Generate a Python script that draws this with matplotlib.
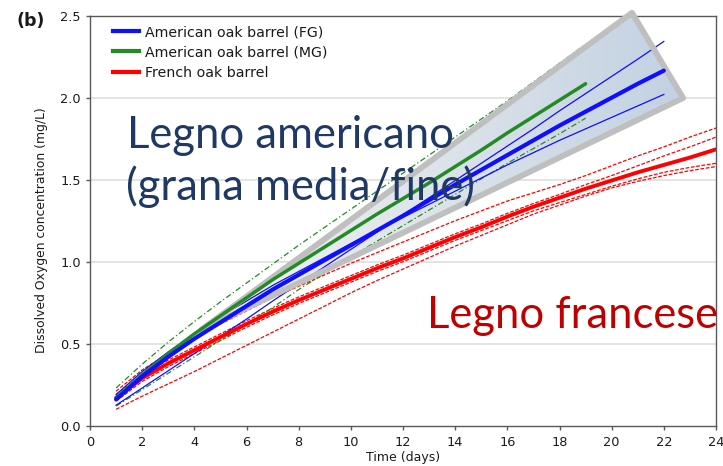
import matplotlib
matplotlib.use('Agg')
import matplotlib.pyplot as plt
import numpy as np
from matplotlib.patches import Polygon
from matplotlib.lines import Line2D
from matplotlib.colors import LinearSegmentedColormap

plt.rcParams['font.family'] = ['DejaVu Sans']

# ---------------- data ----------------
days_fg = list(range(1, 23))
fg_mean = [0.16, 0.30, 0.42, 0.53, 0.63, 0.73, 0.83, 0.92, 1.01, 1.10, 1.19,
           1.28, 1.375, 1.47, 1.56, 1.65, 1.74, 1.83, 1.915, 2.00, 2.085, 2.165]
fg_upper = [0.125, 0.23, 0.335, 0.44, 0.545, 0.65, 0.76, 0.865, 0.97, 1.075, 1.18,
            1.285, 1.39, 1.495, 1.60, 1.705, 1.81, 1.92, 2.025, 2.13, 2.235, 2.343]
fg_lower = [0.19, 0.33, 0.45, 0.56, 0.665, 0.76, 0.855, 0.94, 1.025, 1.11, 1.19,
            1.27, 1.35, 1.43, 1.51, 1.59, 1.665, 1.74, 1.81, 1.88, 1.95, 2.02]

days_mg = list(range(1, 20))
mg_mean = [0.17, 0.31, 0.44, 0.56, 0.67, 0.78, 0.89, 0.99, 1.09, 1.19, 1.29,
           1.385, 1.48, 1.58, 1.68, 1.785, 1.885, 1.985, 2.085]
mg_upper = [0.23, 0.375, 0.51, 0.635, 0.755, 0.87, 0.985, 1.10, 1.21, 1.32, 1.43,
            1.54, 1.65, 1.76, 1.87, 1.98, 2.095, 2.21, 2.325]
mg_lower = [0.12, 0.22, 0.32, 0.42, 0.52, 0.62, 0.72, 0.83, 0.93, 1.03, 1.125,
            1.22, 1.315, 1.41, 1.505, 1.60, 1.69, 1.78, 1.875]

days_fr = list(range(1, 25))
fr_mean = [0.17, 0.29, 0.38, 0.46, 0.54, 0.62, 0.695, 0.765, 0.83, 0.895, 0.96, 1.02,
           1.085, 1.15, 1.21, 1.275, 1.335, 1.39, 1.445, 1.495, 1.545, 1.59, 1.635, 1.685]
fr_band1 = [0.21, 0.34, 0.44, 0.53, 0.62, 0.70, 0.78, 0.85, 0.92, 0.99, 1.055, 1.12,
            1.185, 1.25, 1.31, 1.37, 1.42, 1.47, 1.525, 1.585, 1.645, 1.70, 1.76, 1.815]
fr_band2 = [0.19, 0.31, 0.40, 0.48, 0.56, 0.64, 0.715, 0.785, 0.85, 0.915, 0.98, 1.04,
            1.105, 1.17, 1.23, 1.295, 1.355, 1.41, 1.47, 1.525, 1.585, 1.645, 1.70, 1.76]
fr_band3 = [0.15, 0.27, 0.36, 0.44, 0.52, 0.60, 0.675, 0.745, 0.81, 0.875, 0.94, 1.00,
            1.065, 1.13, 1.19, 1.25, 1.31, 1.36, 1.41, 1.46, 1.505, 1.545, 1.575, 1.60]
fr_band4 = [0.10, 0.18, 0.255, 0.33, 0.41, 0.49, 0.57, 0.65, 0.73, 0.81, 0.885, 0.955,
            1.025, 1.095, 1.16, 1.225, 1.29, 1.345, 1.40, 1.45, 1.49, 1.525, 1.555, 1.58]

# highlighted wedge (x in days, y in mg/L)
wedge_x = [4.26, 20.78, 22.74]
wedge_y = [0.584, 2.518, 1.998]

x_ticks = list(range(0, 25, 2))
y_ticks = [0.0, 0.5, 1.0, 1.5, 2.0, 2.5]
legend_labels = ['American oak barrel (FG)', 'American oak barrel (MG)', 'French oak barrel']

# ---------------- figure ----------------
W, H = 723, 466
fig = plt.figure(figsize=(W / 100, H / 100), dpi=100)
ax = fig.add_axes([90 / W, 1 - 425.7 / H, (716 - 90) / W, 410 / H])

BLUE, GREEN, RED = '#0f0fff', '#238b23', '#ff0000'
SP = '#595959'
TXT = '#1a1a1a'

# wedge gradient fill
grad = np.linspace(0, 1, 256).reshape(1, -1)
cmap = LinearSegmentedColormap.from_list('w', ['#f3f3f3', '#dde3ea', '#c2d1e2'])
poly_fill = Polygon(list(zip(wedge_x, wedge_y)), closed=True, facecolor='none',
                    edgecolor='none', transform=ax.transData)
ax.add_patch(poly_fill)
im = ax.imshow(grad, cmap=cmap, aspect='auto', interpolation='bilinear',
               extent=[min(wedge_x), max(wedge_x), min(wedge_y), max(wedge_y)],
               origin='lower', zorder=1)
im.set_clip_path(poly_fill)

# grid
for yv in y_ticks[1:-1]:
    ax.axhline(yv, color='#e4e4e4', lw=1.4, zorder=0.5)

thin = 0.9
dash_red = (3.0, 1.3)
dash_green = (4.5, 2, 1, 2)

# French
for band in (fr_band1, fr_band2, fr_band3, fr_band4):
    ax.plot(days_fr, band, color=RED, lw=thin, dashes=dash_red, zorder=3)
# MG
for band in (mg_upper, mg_lower):
    ax.plot(days_mg, band, color=GREEN, lw=thin, dashes=dash_green, zorder=3)
# FG thin
for band in (fg_upper, fg_lower):
    ax.plot(days_fg, band, color=BLUE, lw=thin, zorder=3)

# wedge border
poly_edge = Polygon(list(zip(wedge_x, wedge_y)), closed=True, facecolor='none',
                    edgecolor='#bfbfbf', lw=4.2, joinstyle='round', zorder=3.5,
                    clip_on=False)
ax.add_patch(poly_edge)

ax.plot(days_fr, fr_mean, color=RED, lw=2.8, zorder=4, solid_capstyle='round')
ax.plot(days_mg, mg_mean, color=GREEN, lw=2.5, zorder=4, solid_capstyle='round')
ax.plot(days_fg, fg_mean, color=BLUE, lw=3.0, zorder=4.2, solid_capstyle='round')

ax.set_xlim(0, 24)
ax.set_ylim(0, 2.5)
ax.set_xticks(x_ticks)
ax.set_yticks(y_ticks)
ax.set_yticklabels([f'{v:.1f}' for v in y_ticks])
for s in ax.spines.values():
    s.set_color(SP)
    s.set_linewidth(1.0)
ax.tick_params(direction='out', length=3.2, width=1.0, color=SP, labelsize=9.3,
               labelcolor=TXT)
ax.tick_params(axis='y', pad=3.5)
ax.tick_params(axis='x', pad=4)
ax.set_xlabel('Time (days)', fontsize=9, labelpad=1.5, color=TXT)
ax.set_ylabel('Dissolved Oxygen concentration (mg/L)', fontsize=8.9, color=TXT)
ax.yaxis.set_label_coords(-0.067, 0.476)

handles = [Line2D([], [], color=c, lw=3) for c in (BLUE, GREEN, RED)]
ax.legend(handles, legend_labels, loc='upper left', frameon=False, fontsize=10.2,
          bbox_to_anchor=(113 / W, 1 - 25 / H), bbox_transform=fig.transFigure,
          borderaxespad=0, borderpad=0, handlelength=1.8, handletextpad=0.45,
          labelspacing=0.45, labelcolor=TXT)

fig.text(17 / W, 1 - 26 / H, '(b)', fontsize=12.5, fontweight='bold', ha='left',
         va='baseline', color=TXT)

# big annotations
big_font = ['Lato', 'DejaVu Sans']
t1 = fig.text(127 / W, 1 - 148.3 / H, 'Legno americano', fontsize=31, color='#1f3864',
              family=big_font, ha='left', va='baseline', zorder=6)
t2 = fig.text(126 / W, 1 - 200.5 / H, '(grana media/fine)', fontsize=31, color='#1f3864',
              family=big_font, ha='left', va='baseline', zorder=6)
t3 = fig.text(427 / W, 1 - 328.3 / H, 'Legno francese', fontsize=31, color='#c00000',
              family=big_font, ha='left', va='baseline', zorder=6)
renderer = fig.canvas.get_renderer()
w1 = t1.get_window_extent(renderer).width
fs = 31 * 326 / w1
for t in (t1, t2, t3):
    t.set_fontsize(fs)

fig.savefig('out.png', dpi=100)
